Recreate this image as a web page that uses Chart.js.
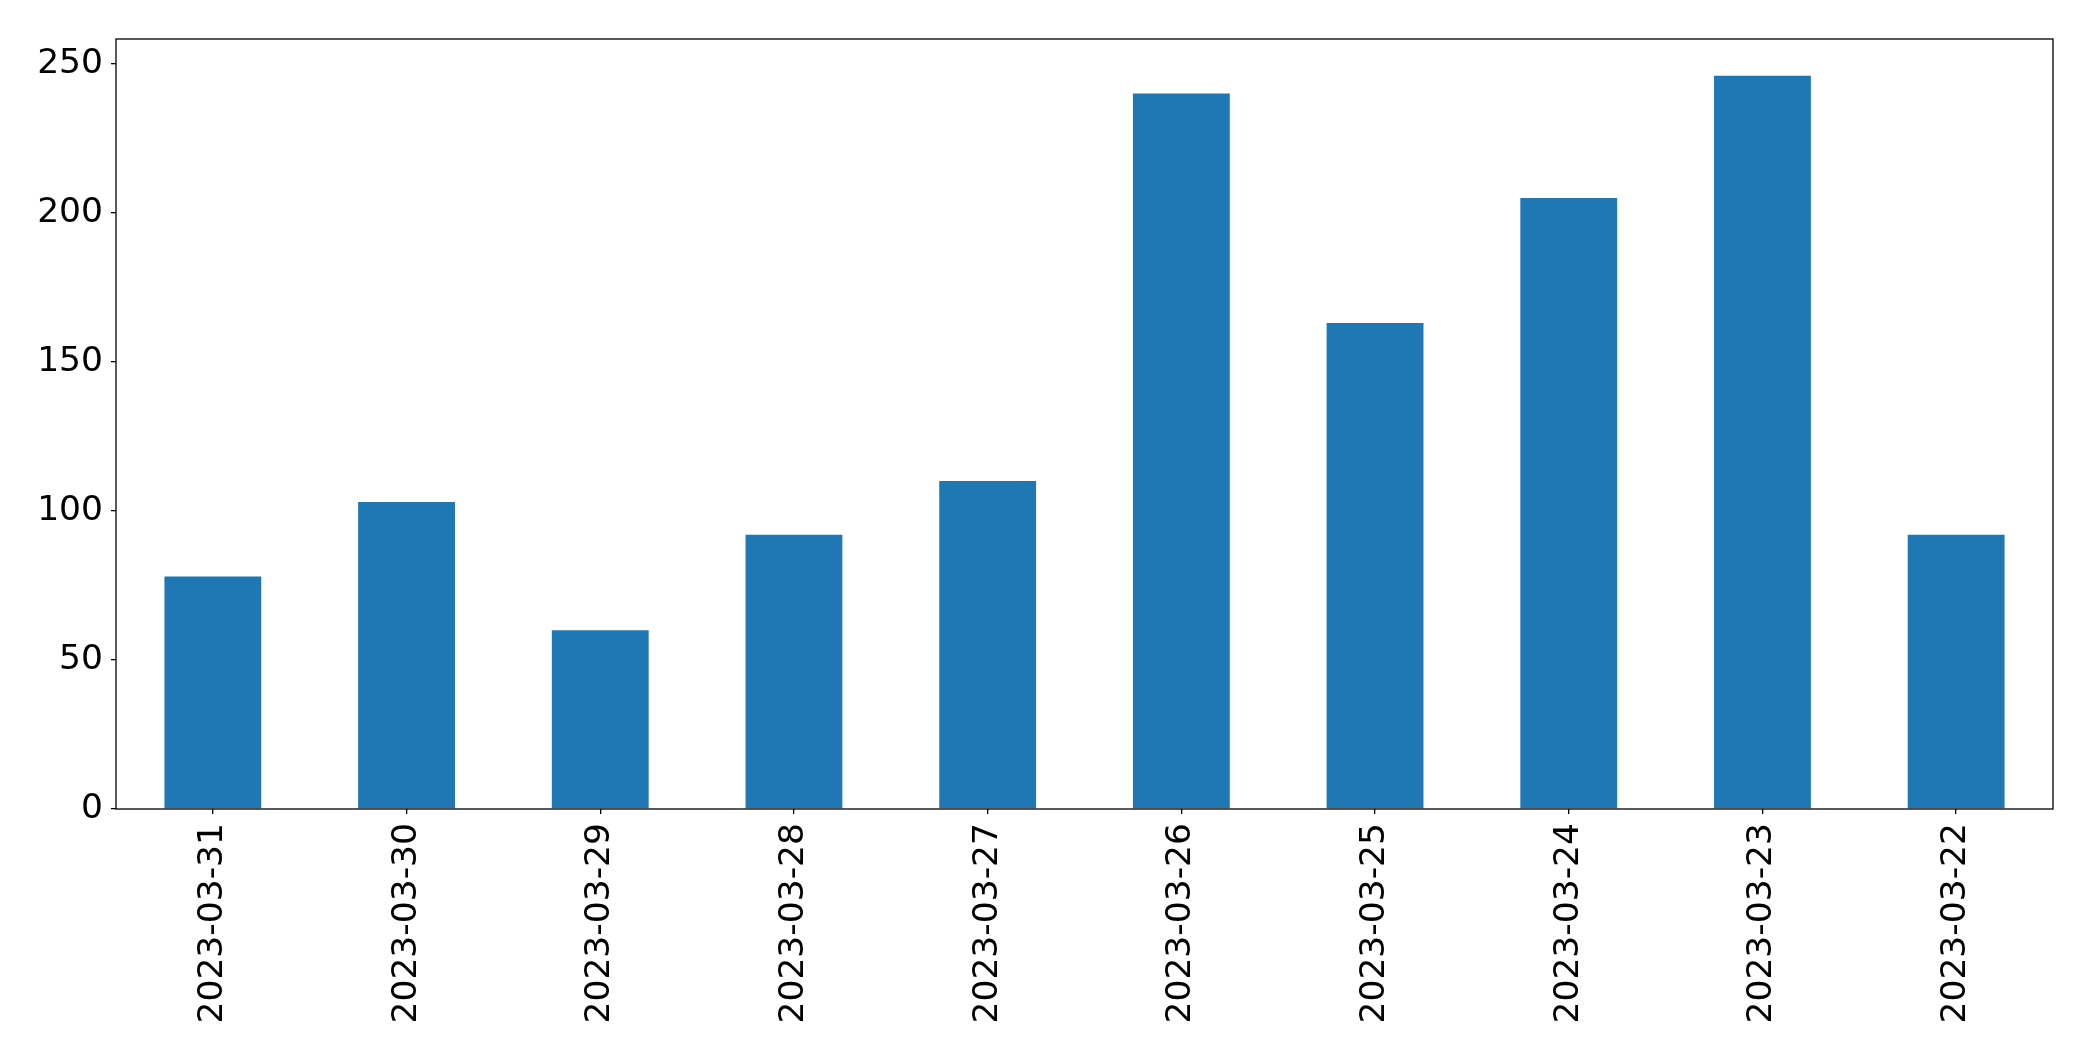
<!DOCTYPE html>
<html>
	<head>
		<meta charset="utf-8" />
		<title>Daily counts</title>
		<script src="https://cdn.jsdelivr.net/npm/chart.js@4.4.0/dist/chart.umd.min.js"></script>
		<style>
			html, body { margin: 0; padding: 0; background: #fff; }
			#wrap { width: 2093px; height: 1061px; }
		</style>
	</head>
	<body>
		<div id="wrap"><canvas id="myChart" width="2093" height="1061"></canvas></div>
	<script>
        // data
        const dates = ['2023-03-31', '2023-03-30', '2023-03-29', '2023-03-28', '2023-03-27',
                       '2023-03-26', '2023-03-25', '2023-03-24', '2023-03-23', '2023-03-22'];
        const counts = [78, 103, 60, 92, 110, 240, 163, 205, 246, 92];
        const yTicks = [0, 50, 100, 150, 200, 250];

        const fontSpec = { family: 'DejaVu Sans', size: 34.5 };

        //draws the box around the plot area like matplotlib
        const frame = {
            id: 'frame',
            afterDraw(chart) {
                const a = chart.chartArea;
                const c = chart.ctx;
                c.save();
                c.strokeStyle = '#000';
                c.lineWidth = 1.3;
                c.strokeRect(a.left, a.top, a.right - a.left, a.bottom - a.top);
                c.restore();
            }
        };

        let ctx = document.getElementById('myChart').getContext('2d');
        let barChart = new Chart(ctx, {
            type: 'bar',
            data: {
                labels: dates,
                datasets: [{
                    data: counts,
                    backgroundColor: '#1f77b4',
                    borderWidth: 0,
                    barPercentage: 0.5,
                    categoryPercentage: 1.0
                }]
            },
            options: {
                responsive: false,
                animation: false,
                layout: { padding: { top: 39, right: 40, left: 0, bottom: 0 } },
                plugins: { legend: { display: false }, tooltip: { enabled: false } },
                scales: {
                    x: {
                        offset: true,
                        grid: { display: true, offset: false, drawOnChartArea: false, drawTicks: true, tickLength: 5, color: '#000', lineWidth: 1.3 },
                        border: { display: false },
                        ticks: { color: '#000', font: fontSpec, minRotation: 90, maxRotation: 90, padding: 9, autoSkip: false },
                        afterFit(scale) { scale.height = 252; }
                    },
                    y: {
                        min: 0,
                        max: Math.max(...counts) * 1.05,
                        afterBuildTicks(scale) { scale.ticks = yTicks.map(v => ({ value: v })); },
                        grid: { display: true, drawOnChartArea: false, drawTicks: true, tickLength: 5, color: '#000', lineWidth: 1.3 },
                        border: { display: false },
                        ticks: { color: '#000', font: fontSpec, padding: 8 },
                        afterFit(scale) { scale.width = 116; }
                    }
                }
            },
            plugins: [frame]
        });
	</script>
	</body>
</html>
